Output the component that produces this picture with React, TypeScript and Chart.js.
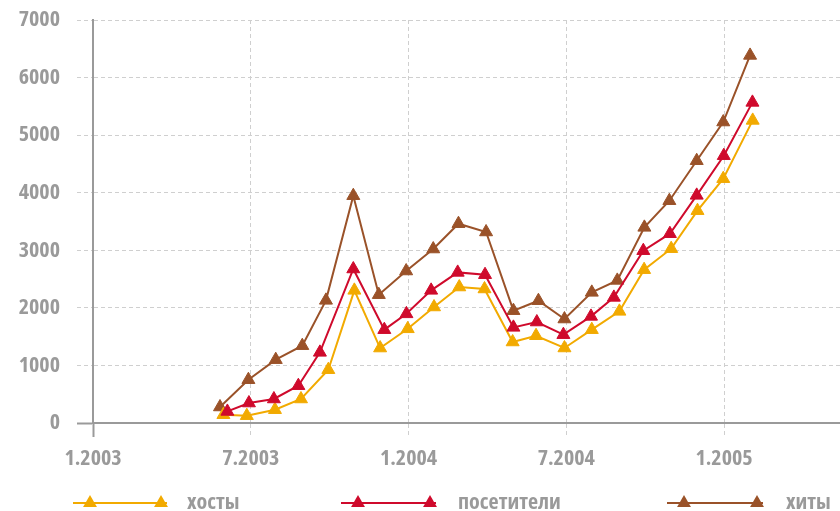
import React, { useEffect, useRef } from "react";
import { Chart, registerables } from "chart.js";

Chart.register(...registerables);

// x positions are in months since 1.2003 (0 = 1.2003)
const hostsMonths = [4.96, 5.85, 6.92, 7.91, 8.95, 9.94, 10.92, 11.97, 12.97, 13.93, 14.89, 15.96, 16.85, 17.93, 18.97, 20.02, 20.96, 21.99, 22.99, 23.97, 25.09];
const hostsValues = [144, 127, 231, 417, 926, 2304, 1302, 1636, 2015, 2362, 2328, 1407, 1516, 1303, 1621, 1939, 2663, 3028, 3688, 4244, 5256];

const visitorsMonths = [5.11, 5.93, 6.88, 7.81, 8.63, 9.9, 11.08, 11.92, 12.86, 13.87, 14.91, 15.99, 16.88, 17.89, 18.94, 19.81, 20.93, 21.94, 22.96, 23.99, 25.08];
const visitorsValues = [201, 347, 417, 648, 1227, 2675, 1621, 1896, 2304, 2616, 2576, 1661, 1754, 1534, 1852, 2182, 2993, 3288, 3954, 4643, 5569];

const hitsMonths = [4.83, 5.91, 6.95, 7.96, 8.86, 9.9, 10.87, 11.91, 12.94, 13.9, 14.95, 15.99, 16.94, 17.93, 18.97, 19.94, 20.97, 21.92, 22.96, 23.97, 24.99];
const hitsValues = [278, 752, 1100, 1343, 2130, 3948, 2229, 2640, 3022, 3462, 3318, 1951, 2124, 1806, 2269, 2477, 3398, 3861, 4556, 5228, 6385];

const xTickValues = [0, 6, 12, 18, 24];
const xTickLabels = ["1.2003", "7.2003", "1.2004", "7.2004", "1.2005"];
const seriesNames = ["хосты", "посетители", "хиты"];
const seriesColors = ["#f2aa00", "#cf0a2c", "#9a5229"];

const FAMILY = "'Open Sans', 'DejaVu Sans', sans-serif";
const WEIGHT = "bold condensed";
const GRAY = "#9a9a9a";
const GRID = "#cfcfcf";

const legendPlugin = {
  id: "customLegend",
  afterDraw(chart: any) {
    const ctx = chart.ctx;
    const items = [
      { x1: 73, x2: 167, tx: 187 },
      { x1: 341, x2: 436, tx: 458 },
      { x1: 667, x2: 763, tx: 786 },
    ];
    const y = 503;
    ctx.save();
    items.forEach((it, i) => {
      const color = seriesColors[i];
      ctx.strokeStyle = color;
      ctx.lineWidth = 2;
      ctx.beginPath();
      ctx.moveTo(it.x1, y);
      ctx.lineTo(it.x2, y);
      ctx.stroke();
      [it.x1 + 17, it.x2 - 6].forEach((cx) => {
        ctx.fillStyle = color;
        ctx.beginPath();
        const r = 8;
        ctx.moveTo(cx, y - r);
        ctx.lineTo(cx + r * 0.866, y + r * 0.5);
        ctx.lineTo(cx - r * 0.866, y + r * 0.5);
        ctx.closePath();
        ctx.fill();
      });
      ctx.fillStyle = GRAY;
      ctx.font = `${WEIGHT} 22px ${FAMILY}`;
      ctx.textBaseline = "alphabetic";
      ctx.textAlign = "left";
      ctx.fillText(seriesNames[i], it.tx, 509);
    });
    ctx.restore();
  },
};

function makeData(xs: number[], ys: number[]) {
  return xs.map((x, i) => ({ x, y: ys[i] }));
}

export default function App() {
  const ref = useRef<HTMLCanvasElement | null>(null);
  useEffect(() => {
    if (!ref.current) return;
    const ds = (label: string, data: any[], color: string, order: number) => ({
      label,
      data,
      borderColor: color,
      backgroundColor: color,
      borderWidth: 2,
      pointStyle: "triangle",
      pointRadius: 7.5,
      pointBorderWidth: 1,
      pointBackgroundColor: color,
      pointBorderColor: color,
      tension: 0,
      clip: 12,
      order,
    });
    const tickFont = { family: FAMILY, size: 22, weight: WEIGHT };
    const zeroPad = (s: any) => {
      s.paddingTop = 0;
      s.paddingBottom = 0;
      s.paddingLeft = 0;
      s.paddingRight = 0;
    };
    const chart = new Chart(ref.current, {
      type: "line",
      data: {
        datasets: [
          ds(seriesNames[0], makeData(hostsMonths, hostsValues), seriesColors[0], 2),
          ds(seriesNames[1], makeData(visitorsMonths, visitorsValues), seriesColors[1], 1),
          ds(seriesNames[2], makeData(hitsMonths, hitsValues), seriesColors[2], 3),
        ],
      },
      options: {
        responsive: false,
        animation: false,
        layout: { autoPadding: false, padding: { top: 20, left: 0, right: 0, bottom: 0 } },
        plugins: { legend: { display: false }, tooltip: { enabled: false } },
        scales: {
          x: {
            type: "linear",
            min: 0,
            max: 28.41,
            afterFit: (s: any) => {
              s.height = 88;
              zeroPad(s);
            },
            afterBuildTicks: (s: any) => {
              s.ticks = xTickValues.map((v) => ({ value: v }));
            },
            ticks: {
              autoSkip: false,
              maxRotation: 0,
              padding: 9,
              color: GRAY,
              font: tickFont,
              callback: (v: any) => {
                const idx = xTickValues.indexOf(Number(v));
                return idx >= 0 ? xTickLabels[idx] : "";
              },
            },
            grid: {
              color: GRID,
              lineWidth: 1,
              tickLength: 14,
              tickColor: (c: any) => (c.tick && c.tick.value === 0 ? GRAY : GRID),
              tickWidth: (c: any) => (c.tick && c.tick.value === 0 ? 2 : 1),
              tickBorderDash: (c: any) => (c.tick && c.tick.value === 0 ? [] : [4, 3]),
            },
            border: { display: true, color: GRAY, width: 2, dash: [4, 3] },
          },
          y: {
            min: 0,
            max: 7000,
            afterFit: (s: any) => {
              s.width = 93;
              zeroPad(s);
            },
            ticks: {
              stepSize: 1000,
              padding: 17,
              color: GRAY,
              font: tickFont,
              callback: (v: any) => String(v),
            },
            grid: {
              color: GRID,
              lineWidth: 1,
              tickLength: 16,
              tickColor: (c: any) => (c.tick && c.tick.value === 0 ? GRAY : GRID),
              tickWidth: (c: any) => (c.tick && c.tick.value === 0 ? 2 : 1),
              tickBorderDash: (c: any) => (c.tick && c.tick.value === 0 ? [] : [4, 3]),
            },
            border: { display: true, color: GRAY, width: 2, dash: [4, 3] },
          },
        },
      },
      plugins: [legendPlugin],
    } as any);
    return () => chart.destroy();
  }, []);
  return (
    <div style={{ position: "absolute", left: 0, top: 0, width: 840, height: 511, background: "#fff" }}>
      <canvas ref={ref} width={840} height={511} style={{ display: "block" }} />
    </div>
  );
}
